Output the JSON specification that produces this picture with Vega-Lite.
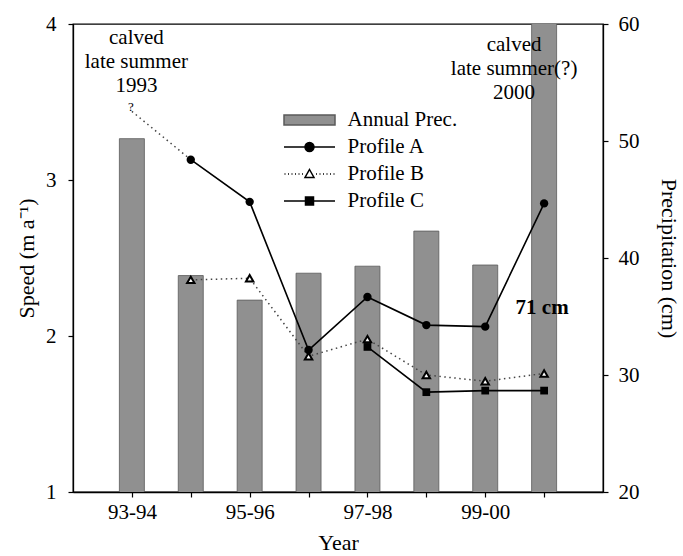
{
  "$schema": "https://vega.github.io/schema/vega-lite/v6.json",
  "width": 530,
  "height": 468,
  "autosize": {"type": "none"},
  "padding": {"left": 73, "top": 24, "right": 80, "bottom": 64},
  "background": "white",
  "datasets": {
    "prec": [
      {"year": "93-94", "prec": 50.2},
      {"year": "94-95", "prec": 38.5},
      {"year": "95-96", "prec": 36.4},
      {"year": "96-97", "prec": 38.7},
      {"year": "97-98", "prec": 39.3},
      {"year": "98-99", "prec": 42.3},
      {"year": "99-00", "prec": 39.4},
      {"year": "00-01", "prec": 71}
    ],
    "speed": [
      {"year": "94-95", "series": "Profile A", "speed": 3.13},
      {"year": "95-96", "series": "Profile A", "speed": 2.86},
      {"year": "96-97", "series": "Profile A", "speed": 1.91},
      {"year": "97-98", "series": "Profile A", "speed": 2.25},
      {"year": "98-99", "series": "Profile A", "speed": 2.07},
      {"year": "99-00", "series": "Profile A", "speed": 2.06},
      {"year": "00-01", "series": "Profile A", "speed": 2.85},
      {"year": "94-95", "series": "Profile B", "speed": 2.36},
      {"year": "95-96", "series": "Profile B", "speed": 2.37},
      {"year": "96-97", "series": "Profile B", "speed": 1.87},
      {"year": "97-98", "series": "Profile B", "speed": 1.98},
      {"year": "98-99", "series": "Profile B", "speed": 1.75},
      {"year": "99-00", "series": "Profile B", "speed": 1.71},
      {"year": "00-01", "series": "Profile B", "speed": 1.76},
      {"year": "97-98", "series": "Profile C", "speed": 1.93},
      {"year": "98-99", "series": "Profile C", "speed": 1.64},
      {"year": "99-00", "series": "Profile C", "speed": 1.65},
      {"year": "00-01", "series": "Profile C", "speed": 1.65},
      {"year": "93-94", "series": "uncertain", "speed": 3.44},
      {"year": "94-95", "series": "uncertain", "speed": 3.13}
    ],
    "legend": [
      {"series": "Annual Prec."},
      {"series": "Profile A"},
      {"series": "Profile B"},
      {"series": "Profile C"}
    ]
  },
  "encoding": {
    "x": {
      "field": "year",
      "type": "ordinal",
      "scale": {"type": "point", "padding": 1, "domain": ["93-94", "94-95", "95-96", "96-97", "97-98", "98-99", "99-00", "00-01"]},
      "axis": {
        "title": "Year",
        "labelExpr": "indexof(['93-94','95-96','97-98','99-00'], datum.value) >= 0 ? datum.label : ''",
        "labelAngle": 0,
        "tickSize": 5,
        "labelPadding": 4,
        "titlePadding": 10
      }
    }
  },
  "layer": [
    {
      "data": {"name": "prec"},
      "mark": {"type": "bar", "size": 25, "clip": true, "fill": "#909090", "stroke": "#5a5a5a", "strokeWidth": 0.8},
      "encoding": {
        "y": {
          "field": "prec",
          "type": "quantitative",
          "scale": {"domain": [20, 60], "zero": false, "nice": false},
          "axis": {"orient": "right", "values": [20, 30, 40, 50, 60], "title": "Precipitation (cm)", "tickSize": 5, "labelPadding": 10, "titlePadding": 17}
        }
      }
    },
    {
      "encoding": {
        "y": {
          "field": "speed",
          "type": "quantitative",
          "scale": {"domain": [1, 4], "zero": false, "nice": false},
          "axis": {"orient": "left", "values": [1, 2, 3, 4], "title": "Speed (m a⁻¹)", "tickSize": 5, "labelPadding": 12, "titlePadding": 7}
        }
      },
      "layer": [
        {
          "data": {"name": "speed"},
          "transform": [{"filter": "datum.series === 'Profile A'"}],
          "mark": {"type": "line", "color": "black", "strokeWidth": 1.6}
        },
        {
          "data": {"name": "speed"},
          "transform": [{"filter": "datum.series === 'Profile B' || datum.series === 'uncertain'"}],
          "mark": {"type": "line", "color": "#444", "strokeWidth": 1.5, "strokeDash": [1.5, 3.5]},
          "encoding": {"detail": {"field": "series", "type": "nominal"}}
        },
        {
          "data": {"name": "speed"},
          "transform": [{"filter": "datum.series === 'Profile C'"}],
          "mark": {"type": "line", "color": "black", "strokeWidth": 1.6}
        },
        {
          "data": {"name": "speed"},
          "transform": [{"filter": "datum.series === 'Profile A'"}],
          "mark": {"type": "point", "shape": "circle", "filled": true, "color": "black", "size": 70, "opacity": 1}
        },
        {
          "data": {"name": "speed"},
          "transform": [{"filter": "datum.series === 'Profile B'"}],
          "mark": {"type": "point", "shape": "triangle-up", "filled": true, "fill": "white", "stroke": "black", "strokeWidth": 2, "size": 55, "opacity": 1}
        },
        {
          "data": {"name": "speed"},
          "transform": [{"filter": "datum.series === 'Profile C'"}],
          "mark": {"type": "point", "shape": "square", "filled": true, "color": "black", "size": 60, "opacity": 1}
        },
        {
          "data": {"values": [{"year": "93-94", "speed": 3.98, "note": "calved\nlate summer\n1993"}]},
          "mark": {"type": "text", "font": "Liberation Serif", "fontSize": 21, "lineHeight": 24, "baseline": "top", "align": "center", "dx": 4.5, "lineBreak": "\n", "color": "black"},
          "encoding": {"text": {"field": "note"}}
        },
        {
          "data": {"values": [{"year": "00-01", "speed": 3.936, "note": "calved\nlate summer(?)\n2000"}]},
          "mark": {"type": "text", "font": "Liberation Serif", "fontSize": 21, "lineHeight": 24, "baseline": "top", "align": "center", "dx": -30, "lineBreak": "\n", "color": "black"},
          "encoding": {"text": {"field": "note"}}
        },
        {
          "data": {"values": [{"year": "00-01", "speed": 2.18, "note": "71 cm"}]},
          "mark": {"type": "text", "font": "Liberation Serif", "fontSize": 21, "fontWeight": "bold", "baseline": "middle", "align": "center", "dx": -2, "color": "black"},
          "encoding": {"text": {"field": "note"}}
        },
        {
          "data": {"values": [{"year": "93-94", "speed": 3.44, "note": "?"}]},
          "mark": {"type": "text", "font": "Liberation Serif", "fontSize": 13, "baseline": "bottom", "align": "right", "dx": 2, "dy": 3, "color": "black"},
          "encoding": {"text": {"field": "note"}}
        },
        {
          "data": {"name": "legend"},
          "mark": {"type": "point", "filled": true, "opacity": 0, "size": 400},
          "encoding": {
            "x": {"value": 0},
            "y": {"value": 0},
            "fill": {
              "field": "series", "type": "nominal",
              "scale": {"domain": ["Annual Prec.", "Profile A", "Profile B", "Profile C"], "range": ["#909090", "black", "white", "black"]},
              "legend": {"title": null, "orient": "none", "legendX": 225.5, "legendY": 85, "padding": 0, "labelOffset": 27, "rowPadding": 6, "labelFont": "Liberation Serif", "labelFontSize": 21, "labelColor": "black", "labelLimit": 300, "symbolOpacity": 1, "symbolStrokeWidth": 1.5, "symbolSize": 400}
            },
            "stroke": {
              "field": "series", "type": "nominal",
              "scale": {"domain": ["Annual Prec.", "Profile A", "Profile B", "Profile C"], "range": ["#5a5a5a", "black", "black", "black"]},
              "legend": {"title": null, "orient": "none", "legendX": 225.5, "legendY": 85, "padding": 0, "labelOffset": 27, "rowPadding": 6, "labelFont": "Liberation Serif", "labelFontSize": 21, "labelColor": "black", "labelLimit": 300, "symbolOpacity": 1, "symbolStrokeWidth": 1.5, "symbolSize": 400}
            },
            "shape": {
              "field": "series", "type": "nominal",
              "scale": {"domain": ["Annual Prec.", "Profile A", "Profile B", "Profile C"], "range": [
                "M-2.55,-0.5H2.55V0.5H-2.55Z",
                "M-2.55,0H2.55M0.45,0A0.45,0.45,0,1,1,-0.45,0A0.45,0.45,0,1,1,0.45,0Z",
                "M-2.5,0h0.1M-2.15,0h0.1M-1.8,0h0.1M-1.45,0h0.1M-1.1,0h0.1M-0.75,0h0.1M0.65,0h0.1M1.0,0h0.1M1.35,0h0.1M1.7,0h0.1M2.05,0h0.1M2.4,0h0.1M0,-0.45L0.45,0.35L-0.45,0.35Z",
                "M-2.55,0H2.55M-0.4,-0.4H0.4V0.4H-0.4Z"
              ]},
              "legend": {"title": null, "orient": "none", "legendX": 225.5, "legendY": 85, "padding": 0, "labelOffset": 27, "rowPadding": 6, "labelFont": "Liberation Serif", "labelFontSize": 21, "labelColor": "black", "labelLimit": 300, "symbolOpacity": 1, "symbolStrokeWidth": 1.5, "symbolSize": 400}
            }
          }
        }
      ]
    }
  ],
  "resolve": {"scale": {"y": "independent"}},
  "config": {
    "font": "Liberation Serif",
    "view": {"stroke": "black", "strokeWidth": 1.3},
    "axis": {
      "labelFont": "Liberation Serif",
      "titleFont": "Liberation Serif",
      "labelFontSize": 21,
      "titleFontSize": 22,
      "titleFontWeight": "normal",
      "labelColor": "black",
      "titleColor": "black",
      "domainColor": "black",
      "domainWidth": 1.3,
      "tickColor": "black",
      "tickWidth": 1.2,
      "grid": false
    }
  }
}
